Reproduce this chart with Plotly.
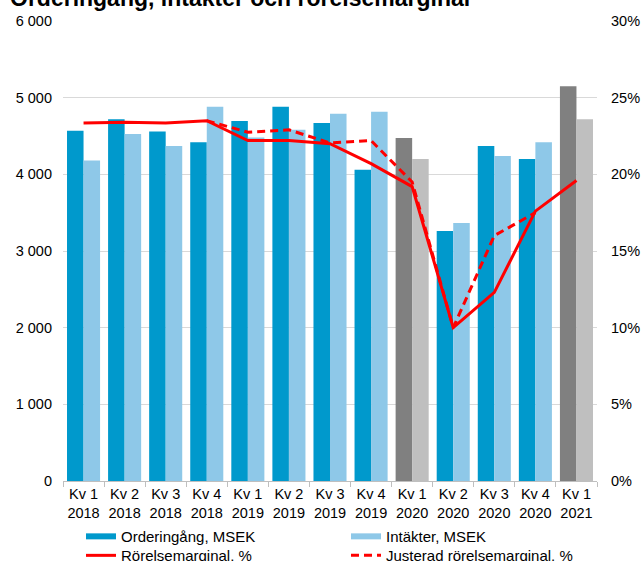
import plotly.graph_objects as go

# ---------------- data ----------------
quarters = ["Kv 1", "Kv 2", "Kv 3", "Kv 4", "Kv 1", "Kv 2", "Kv 3", "Kv 4",
            "Kv 1", "Kv 2", "Kv 3", "Kv 4", "Kv 1"]
years = ["2018", "2018", "2018", "2018", "2019", "2019", "2019", "2019",
         "2020", "2020", "2020", "2020", "2021"]
orderingang = [4570, 4720, 4560, 4420, 4695, 4880, 4670, 4060,
               4475, 3260, 4370, 4200, 5150]
intakter = [4180, 4525, 4370, 4880, 4480, 4580, 4790, 4815,
            4200, 3365, 4240, 4420, 4720]
rorelsemarginal = [23.35, 23.4, 23.35, 23.5, 22.2, 22.2, 22.0, 20.7,
                   19.2, 10.0, 12.3, 17.6, 19.6]
justerad = [None, None, None, 23.5, 22.75, 22.9, 22.05, 22.2,
            19.5, 10.0, 16.0, 17.5, None]
left_ticks = [0, 1000, 2000, 3000, 4000, 5000, 6000]
right_ticks = [0, 5, 10, 15, 20, 25, 30]
title_text = "Orderingång, intäkter och rörelsemarginal"

# ---------------- styling ----------------
categories = [f"{q}<br>{y}" for q, y in zip(quarters, years)]
highlight = {"Kv 1<br>2020", "Kv 1<br>2021"}
BLUE, LBLUE = "#0099CC", "#8EC8E8"
DGRAY, LGRAY = "#808080", "#BFBFBF"
RED = "#FF0000"
FONT = "Liberation Sans, Arial, sans-serif"
DASH = "8px,5px"

col1 = [DGRAY if c in highlight else BLUE for c in categories]
col2 = [LGRAY if c in highlight else LBLUE for c in categories]

fig = go.Figure()
fig.add_trace(go.Bar(x=categories, y=orderingang, marker=dict(color=col1, line=dict(width=0)),
                     name="Orderingång, MSEK", showlegend=False, legendgroup="a"))
fig.add_trace(go.Bar(x=categories, y=intakter, marker=dict(color=col2, line=dict(width=0)),
                     name="Intäkter, MSEK", showlegend=False, legendgroup="b"))
fig.add_trace(go.Scatter(x=categories, y=rorelsemarginal, mode="lines", yaxis="y2",
                         line=dict(color=RED, width=3), name="Rörelsemarginal, %",
                         showlegend=False, legendgroup="c"))
fig.add_trace(go.Scatter(x=categories, y=justerad, mode="lines", yaxis="y2",
                         line=dict(color=RED, width=3, dash=DASH),
                         name="Justerad rörelsemarginal, %", showlegend=False,
                         legendgroup="d", connectgaps=False))

# legend entries drawn as wide strokes like the reference (two legend rows)
for name, color, width, dash, grp, leg in [
    ("Orderingång, MSEK", BLUE, 6, "solid", "a", "legend"),
    ("Intäkter, MSEK", LBLUE, 6, "solid", "b", "legend"),
    ("Rörelsemarginal, %", RED, 3, "solid", "c", "legend2"),
    ("Justerad rörelsemarginal, %", RED, 3, DASH, "d", "legend2"),
]:
    fig.add_trace(go.Scatter(x=[None], y=[None], mode="lines", name=name,
                             line=dict(color=color, width=width, dash=dash),
                             legendgroup=grp, showlegend=True, legend=leg))

fig.add_annotation(text=f"<b>{title_text}</b>", xref="paper", yref="paper",
                   x=-0.103, y=1.05, xanchor="left", yanchor="middle",
                   showarrow=False, font=dict(family=FONT, size=23, color="#000000"))

legend_style = dict(orientation="h", x=0.0337, xanchor="left", yanchor="top",
                    entrywidth=220, entrywidthmode="pixels", font=dict(size=15),
                    tracegroupgap=0, itemwidth=30, bgcolor="rgba(0,0,0,0)")

fig.update_layout(
    width=641, height=561,
    margin=dict(l=63, r=44, t=21, b=80, autoexpand=False),
    paper_bgcolor="white", plot_bgcolor="white",
    font=dict(family=FONT, size=14, color="#000000"),
    barmode="group", bargap=0.195, bargroupgap=0.0,
    showlegend=True,
    legend=dict(y=-0.085, **legend_style),
    legend2=dict(y=-0.1263, **legend_style),
    xaxis=dict(type="category", showline=True, linecolor="#BFBFBF", linewidth=1,
               ticks="outside", tickson="boundaries", ticklen=5, tickcolor="#BFBFBF",
               showgrid=False, tickfont=dict(size=14.5), tickangle=0, fixedrange=True),
    yaxis=dict(range=[0, 6000], tickvals=left_ticks,
               ticktext=[f"{v:,}".replace(",", " ") for v in left_ticks],
               showgrid=True, gridcolor="#D9D9D9", gridwidth=1, zeroline=False,
               ticks="", ticklabelstandoff=10, tickfont=dict(size=14.5)),
    yaxis2=dict(range=[0, 30], tickvals=right_ticks,
                ticktext=[f"{v}%" for v in right_ticks], overlaying="y",
                side="right", showgrid=False, zeroline=False, ticks="",
                ticklabelstandoff=13, tickfont=dict(size=14.5)),
)

fig.write_html("out.html", config={"displayModeBar": False},
               post_script="document.body.style.margin='0';document.body.style.overflow='hidden';")
